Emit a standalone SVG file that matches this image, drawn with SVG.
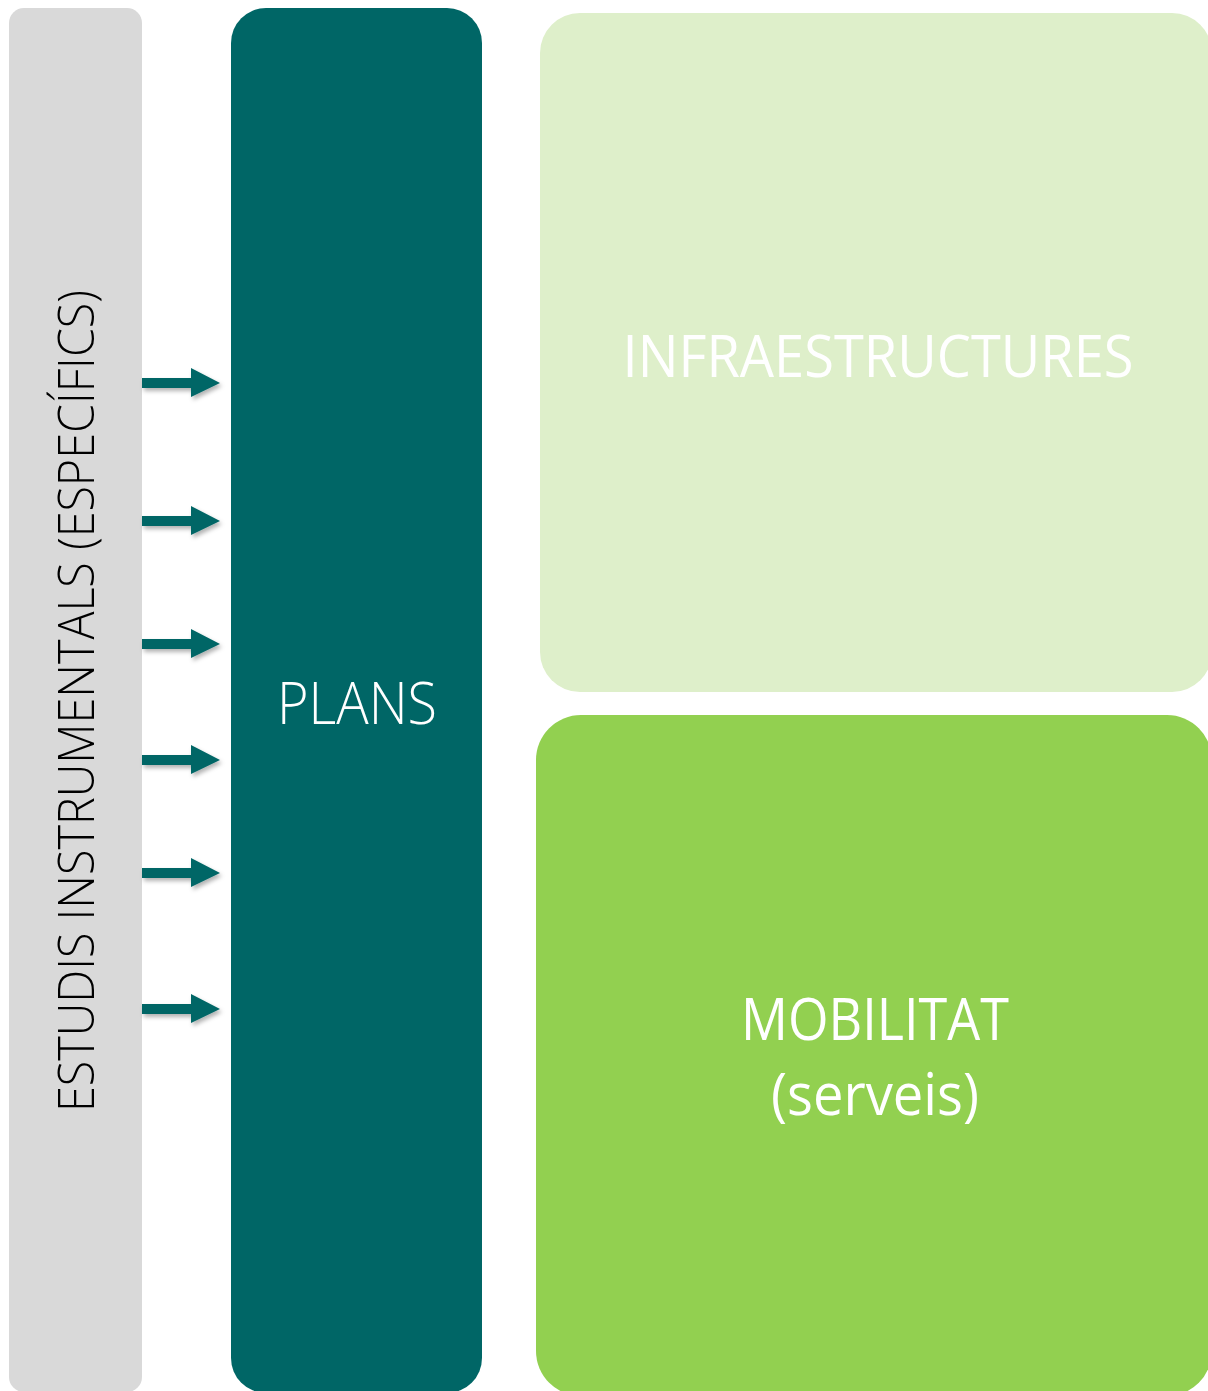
<svg xmlns="http://www.w3.org/2000/svg" width="1208" height="1391" viewBox="0 0 1208 1391">
<defs>
<style>
.lbl{font-family:"Open Sans","Liberation Sans",sans-serif;font-weight:400;fill:#ffffff;font-size:58px;text-anchor:middle}
.light{font-weight:300}
.vlbl{font-family:"Open Sans","Liberation Sans",sans-serif;font-weight:300;fill:#000000;font-size:50px;text-anchor:middle}
.arrow{fill:#006666}
</style>
<filter id="sh" x="-20%" y="-40%" width="150%" height="200%">
<feDropShadow dx="2" dy="3" stdDeviation="2" flood-color="#000000" flood-opacity="0.3"/>
</filter>
<path id="arr" d="M0,-5 H49 V-15 L78,0 L49,14 V5 H0 Z"/>
</defs>
<rect width="1208" height="1391" fill="#ffffff"/>
<g id="estudis">
<rect x="9" y="8" width="133" height="1384" rx="15" fill="#D9D9D9"/>
<text class="vlbl" transform="translate(94,701) rotate(-90)" textLength="822" lengthAdjust="spacingAndGlyphs">ESTUDIS INSTRUMENTALS (ESPECÍFICS)</text>
</g>
<g id="plans">
<rect x="231" y="8" width="251" height="1385" rx="35" fill="#006666"/>
<text class="lbl light" x="357" y="724" textLength="160" lengthAdjust="spacingAndGlyphs">PLANS</text>
</g>
<g id="infraestructures">
<rect x="540" y="13" width="672" height="679" rx="40" fill="#DEEFCA"/>
<text class="lbl" x="878" y="377" textLength="511" lengthAdjust="spacingAndGlyphs">INFRAESTRUCTURES</text>
</g>
<g id="mobilitat">
<rect x="536" y="715" width="676" height="681" rx="45" fill="#92D050"/>
<text class="lbl" x="875" y="1040" textLength="268" lengthAdjust="spacingAndGlyphs">MOBILITAT</text>
<text class="lbl" x="875" y="1115" textLength="208" lengthAdjust="spacingAndGlyphs">(serveis)</text>
</g>
<g id="connectors" filter="url(#sh)">
<use href="#arr" class="arrow" x="142" y="383"/>
<use href="#arr" class="arrow" x="142" y="521"/>
<use href="#arr" class="arrow" x="142" y="644"/>
<use href="#arr" class="arrow" x="142" y="760"/>
<use href="#arr" class="arrow" x="142" y="873"/>
<use href="#arr" class="arrow" x="142" y="1009"/>
</g>
</svg>
